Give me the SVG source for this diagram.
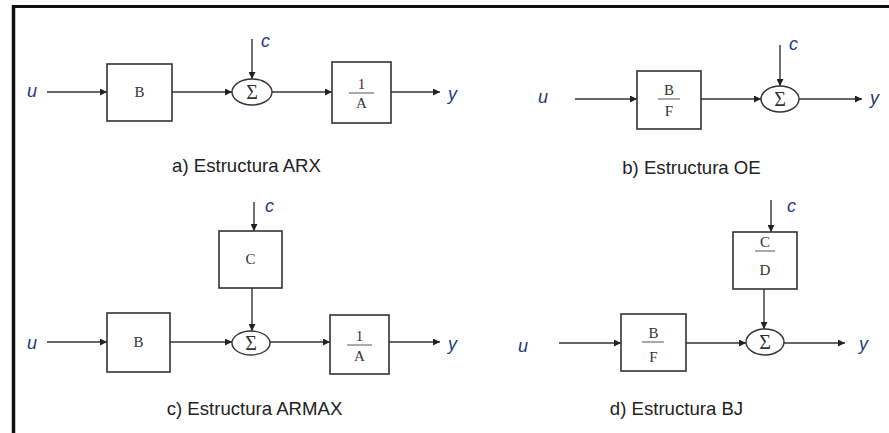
<svg xmlns="http://www.w3.org/2000/svg" width="889" height="433" viewBox="0 0 889 433">
<defs>
<style>
.box{fill:#fff;stroke:#333;stroke-width:1.6}
.sum{fill:#fff;stroke:#333;stroke-width:1.4}
.w{stroke:#333;stroke-width:1.4;fill:none;marker-end:url(#ah)}
.bt{font-family:"Liberation Serif","Times New Roman",serif;font-size:15px;fill:#333;text-anchor:middle}
.st{font-family:"Liberation Serif","Times New Roman",serif;font-size:20px;fill:#333;text-anchor:middle}
.sig{font-family:"Liberation Sans",Arial,sans-serif;font-size:18px;font-style:italic;fill:#22377f}
.cap{font-family:"Liberation Sans",Arial,sans-serif;font-size:18.6px;fill:#222;text-anchor:middle}
.fl{stroke:#555;stroke-width:1}
</style>
<marker id="ah" viewBox="0 0 10 10" refX="10" refY="5" markerWidth="9" markerHeight="7" markerUnits="userSpaceOnUse" orient="auto">
<path d="M0,0 L10,5 L0,10 z" fill="#222"/>
</marker>
</defs>
<rect width="889" height="433" fill="#fff"/>
<g id="frame">
<line x1="12" y1="6.5" x2="889" y2="6.5" stroke="#111" stroke-width="3"/>
<line x1="13.5" y1="5" x2="13.5" y2="433" stroke="#111" stroke-width="3.5"/>
</g>
<g id="connectors">
<line class="w" x1="47" y1="92" x2="107" y2="92"/>
<line class="w" x1="172" y1="92" x2="232" y2="92"/>
<line class="w" x1="252" y1="39" x2="252" y2="79"/>
<line class="w" x1="272" y1="92" x2="332" y2="92"/>
<line class="w" x1="391" y1="92" x2="440" y2="92"/>
<line class="w" x1="575" y1="99" x2="637" y2="99"/>
<line class="w" x1="701" y1="99" x2="761" y2="99"/>
<line class="w" x1="780" y1="45" x2="780" y2="86"/>
<line class="w" x1="799" y1="99" x2="862" y2="99"/>
<line class="w" x1="254" y1="202" x2="254" y2="231"/>
<line class="w" x1="252" y1="288" x2="252" y2="331"/>
<line class="w" x1="47" y1="342" x2="107" y2="342"/>
<line class="w" x1="170" y1="342" x2="232" y2="342"/>
<line class="w" x1="270" y1="342" x2="330" y2="342"/>
<line class="w" x1="389" y1="342" x2="440" y2="342"/>
<line class="w" x1="771" y1="200" x2="771" y2="232"/>
<line class="w" x1="764" y1="289" x2="764" y2="329"/>
<line class="w" x1="559" y1="343" x2="621" y2="343"/>
<line class="w" x1="686" y1="343" x2="746" y2="343"/>
<line class="w" x1="784" y1="343" x2="845" y2="343"/>
</g>
<g id="a_B"><rect class="box" x="107" y="64" width="65" height="57"/><text class="bt" x="139.5" y="97">B</text></g>
<g id="a_sum"><ellipse class="sum" cx="252" cy="92" rx="20" ry="13"/><text class="st" x="252" y="99">Σ</text></g>
<g id="a_A"><rect class="box" x="332" y="62" width="59" height="61"/><text class="bt" x="361.5" y="89">1</text><line class="fl" x1="349" y1="93" x2="374" y2="93"/><text class="bt" x="361.5" y="108">A</text></g>
<g id="a_labels">
<text class="sig" x="27" y="97">u</text>
<text class="sig" x="261" y="47">c</text>
<text class="sig" x="448" y="100">y</text>
<text class="cap" x="246.5" y="172">a) Estructura ARX</text>
</g>
<g id="b_BF"><rect class="box" x="637" y="71" width="64" height="58"/><text class="bt" x="669" y="95">B</text><line class="fl" x1="658" y1="99" x2="680" y2="99"/><text class="bt" x="669" y="116">F</text></g>
<g id="b_sum"><ellipse class="sum" cx="780" cy="99" rx="19" ry="13"/><text class="st" x="780" y="106">Σ</text></g>
<g id="b_labels">
<text class="sig" x="538" y="103">u</text>
<text class="sig" x="789" y="50">c</text>
<text class="sig" x="870" y="104">y</text>
<text class="cap" x="691.5" y="174">b) Estructura OE</text>
</g>
<g id="c_C"><rect class="box" x="219" y="231" width="63" height="57"/><text class="bt" x="250.5" y="264">C</text></g>
<g id="c_B"><rect class="box" x="107" y="313" width="63" height="59"/><text class="bt" x="138.5" y="347">B</text></g>
<g id="c_sum"><ellipse class="sum" cx="251" cy="343" rx="19" ry="12"/><text class="st" x="251" y="350">Σ</text></g>
<g id="c_A"><rect class="box" x="330" y="315" width="59" height="59"/><text class="bt" x="359.5" y="341">1</text><line class="fl" x1="347" y1="345" x2="372" y2="345"/><text class="bt" x="359.5" y="361">A</text></g>
<g id="c_labels">
<text class="sig" x="27" y="349">u</text>
<text class="sig" x="265" y="212">c</text>
<text class="sig" x="448" y="350">y</text>
<text class="cap" x="254.5" y="415">c) Estructura ARMAX</text>
</g>
<g id="d_CD"><rect class="box" x="733" y="232" width="64" height="57"/><text class="bt" x="765" y="247">C</text><line class="fl" x1="755" y1="251" x2="775" y2="251"/><text class="bt" x="765" y="275">D</text></g>
<g id="d_BF"><rect class="box" x="621" y="314" width="65" height="57"/><text class="bt" x="653.5" y="338">B</text><line class="fl" x1="642" y1="342" x2="664" y2="342"/><text class="bt" x="653.5" y="362">F</text></g>
<g id="d_sum"><ellipse class="sum" cx="765" cy="342" rx="19" ry="13"/><text class="st" x="765" y="349">Σ</text></g>
<g id="d_labels">
<text class="sig" x="518" y="352">u</text>
<text class="sig" x="787" y="212">c</text>
<text class="sig" x="859" y="350">y</text>
<text class="cap" x="676.5" y="415">d) Estructura BJ</text>
</g>
</svg>
